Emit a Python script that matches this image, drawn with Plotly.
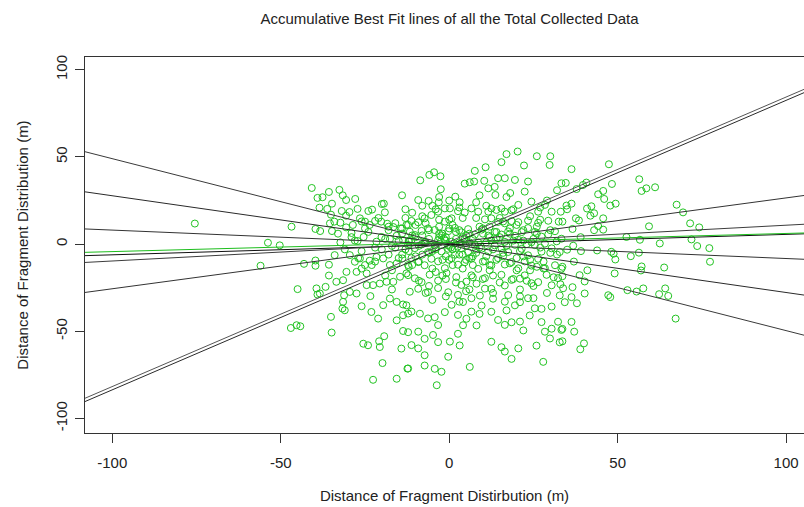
import plotly.graph_objects as go

# ---------------- data ----------------
# scatter of all collected fragments (x, y in metres)
pts_x = [
    -75.5, -56.0, -53.8, -50.3,
    -40.8, -39.1, -37.6, -35.7, -32.6, -31.6, -30.6, -27.9, -34.8, -38.5, -36.2, -19.4, -27.2, -22.9, -19.1,
    -31.9, -29.6, -35.1, -30.6, -46.8, -39.7, -38.3, -35.4, -34.1, -32.3, -30.6, -28.6, -26.5, -25.0, -23.6,
    -22.0, -20.2, -18.4, -16.6, -14.4, -12.7, -34.8, -32.3, -29.0, -27.2, -25.4, -21.6, -20.1, -17.6, -15.6,
    -13.7, -12.0, -43.1, -39.7, -39.7, -35.7, -34.0, -29.5, -28.0, -26.5, -25.0, -23.6, -21.6, -19.6, -17.6,
    -15.6, -13.9, -12.2, -45.0, -35.7, -39.4, -39.1, -38.4, -36.7, -33.5, -31.5, -30.5, -27.5, -26.0, -24.5,
    -22.6, -20.6, -18.6, -16.6, -14.6, -12.7, -31.2, -29.5, -27.5, -24.5, -31.5, -31.0, -31.7, -35.1, -26.0,
    -23.4, -23.1, -19.6, -17.6, -15.6, -13.7, -12.2, -21.1, -15.6, -13.7, -47.0, -45.3, -44.2, -34.9, -25.5,
    -24.1, -20.8, -20.6, -19.3, -13.7, -14.2, -19.8, -12.4, -22.6, -15.6,
    # centre block
    -8.6, -5.9, -4.5, -2.6, -2.5, -9.2, -6.1, -3.1, -1.3, 0.2, 1.8, 3.1, 4.6, 6.1, 7.4, 7.6, 10.8, 10.4, 11.6,
    13.5, 13.7, 14.5, 16.5, 15.5, 17.0, 20.3, 19.5, 22.2, 23.4, 22.4, 26.0, 30.0, 29.8, 33.3, 32.0, 18.1, 12.5,
    14.0, 15.5, 16.5, 11.6, 18.5, 20.5, 24.4, 28.4, 26.4, 30.4, 33.1, 32.5, 29.4, 26.4, 23.4, 20.5, 18.5, 16.5,
    14.5, 12.5, 10.6, 8.6, 6.6, 4.6, 2.6, 0.7, -1.3, -3.3, -5.3, -7.3, -9.2, -11.2, -12.2,
    -11.7, -10.2, -8.2, -6.3, -4.3, -2.3, -0.3, 1.7, 3.6, 5.6, 7.6, 9.6, 11.6, 13.5, 15.5, 17.5, 19.5, 21.5,
    23.4, 25.4, 27.4, 29.4, 31.4, 33.3,
    -12.2, -10.2, -8.2, -6.3, -4.3, -2.3, -0.3, 1.7, 3.6, 5.6, 7.6, 9.6, 11.6, 13.5, 15.5, 17.5, 19.5, 21.5,
    23.4, 25.4, 27.4, 30.4, 32.8,
    -11.2, -7.3, -3.3, 0.7, 4.6, 8.6, 12.5, 16.5, 20.5, 24.4, 28.4, 31.9,
    -11.2, -9.2, -7.3, -5.3, -3.3, -1.3, 0.7, 2.6, 4.6, 6.6, 8.6, 10.6, 12.5, 14.5, 16.5, 18.5, 20.5, 22.4,
    24.4, 26.4, 28.4, 31.4, 33.3,
    -12.2, -10.2, -8.2, -5.8, -3.3, -0.8, 2.1, 3.6, 5.1, 6.6, 8.1, 10.6, 12.5, 15.5, 16.5, 18.5, 21.0, 22.4,
    24.4, 26.4, 28.9, 30.4, 32.3, 33.8,
    -11.7, -9.2, -6.3, -3.3, -0.3, 2.6, 4.1, 6.6, 9.1, 10.6, 13.0, 16.5, 17.5, 19.5, 21.0, 23.4, 25.4, 27.4,
    30.4, 32.8,
    -12.7, -11.2, -8.7, -6.3, -4.3, -3.3, -1.3, 0.7, 2.6, 5.1, 6.6, 8.1, 9.6, 12.5, 14.5, 16.5, 18.5, 21.0,
    23.9, 27.4, 28.4, 30.4, 32.3, 33.3,
    -12.2, -9.2, -7.3, -4.8, -3.3, 0.2, 2.6, 3.1, 4.1, 12.5, 15.5, 16.5, 18.5, 20.5, 22.0, 25.9, 29.9, 32.8,
    -12.2, -7.3, -4.3, -2.3, -0.3, 6.1, -3.7, 27.9, -7.3, -9.2, -11.2,
    -6.0, -4.0, -2.0, 0.0, 2.0, 4.0, 6.0, 8.0, 10.0, -8.0, -10.0, -3.0, 1.0, 5.0, 9.0, -1.0, 3.0, 7.0, -5.0,
    11.0, 14.0, 16.0, 18.0, 20.0, 22.0, -12.0, -14.0, -16.0, -18.0, -20.0, -7.0, -9.0, 12.0, 15.0, -2.0, 2.0,
    6.0, -6.0, -4.0, 0.0, 8.0, -11.0, 13.0, 19.0, 24.0, 26.0, 28.0, -13.0, -15.0, -17.0, -22.0, -24.0, -26.0,
    -28.0, 3.0, -1.0, 9.0, -5.0, 17.0, 21.0, 25.0, 29.0, 30.0, 32.0, 27.0, -3.0, 4.0, 10.0, -8.0, 1.0, -1.0,
    5.0, 7.0, -11.0, 12.0,
    # dense core
    -19, -17, -15, -13, -11, -9, -7, -5, -3, -1, 1, 3, 5, 7, 9, 11, 13, 15, 17, 19, 21, 23, 25, 27,
    -18, -14, -10, -6, -2, 2, 6, 10, 14, 18, 22, 26, 30,
    -16, -12, -8, -4, 0, 4, 8, 12, 16, 20, 24, 28,
    -21, -19, -13, -9, -5, -1, 3, 7, 11, 15, 19, 23, 27, 31,
    -23, -25, -27, -29, -31, -33, -24, -20, -17, -14, -7, -3, 5, 9, 13, 17, 21, 25, 29, 33, 35, 37, 39, 41, 43,
    -0.5, 1.5, -2.5, 0.5, 2.5, -1.5, 4, -4, 6, -6, 8, -8, 3, -3, 12, -12, 14, -14, 16, 10, -10, 18, -18, 20,
    22, 24, -22, 26, -26, 0, 0,
    # right block
    36.3, 34.6, 47.4, 48.3, 56.4, 57.1, 58.5, 61.1, 40.7, 39.7, 37.8, 34.8, 36.3, 40.9, 42.2, 44.2, 45.7, 46.0,
    47.8, 49.4, 41.9, 43.0, 45.7, 37.6, 38.5, 33.6, 36.6, 44.2, 45.7, 67.5, 69.4, 71.5, 74.2, 59.3, 52.6, 56.6,
    62.5, 71.9, 73.6, 77.2, 36.8, 35.0, 39.1, 43.9, 48.1, 48.8, 49.3, 53.9, 56.3, 57.1, 56.9, 63.8, 77.4, 33.6,
    33.6, 38.7, 40.2, 36.6, 49.1, 36.3, 34.3, 37.9, 40.2, 47.2, 47.8, 52.9, 55.6, 57.6, 62.3, 64.1, 65.0, 67.2,
    36.3, 33.6, 37.1, 33.6, 40.0, 38.9,
]
pts_y = [
    11.8, -12.4, 0.8, -0.7,
    32.2, 26.5, 26.9, 29.9, 31.1, 28.0, 25.3, 25.9, 23.2, 20.9, 20.2, 23.2, 20.2, 19.8, 18.2,
    19.0, 18.4, 16.9, 16.3, 10.0, 8.7, 7.5, 11.9, 12.9, 12.3, 9.6, 11.0, 14.8, 12.9, 11.0,
    13.3, 12.9, 11.7, 9.8, 9.0, 11.0, 7.5, 1.0, 6.4, 1.8, 4.1, 1.4, 4.1, 2.9, 4.8,
    2.3, 1.4, -11.3, -9.4, -12.4, -11.8, -6.3, -6.3, -10.1, -8.2, -12.0, -9.5, -7.4, -8.2, -12.0,
    -11.1, -8.2, -12.0, -25.8, -18.0, -25.4, -28.9, -28.3, -24.5, -21.6, -20.7, -15.9, -15.9, -14.0, -16.8,
    -23.5, -22.6, -21.6, -21.6, -18.7, -16.8, -29.3, -27.4, -28.3, -23.5, -33.1, -37.9, -36.9, -41.7, -35.6,
    -29.8, -38.9, -35.0, -31.2, -33.1, -34.6, -39.8, -42.7, -43.7, -40.8, -48.1, -46.5, -47.1, -50.7, -57.1,
    -58.0, -55.7, -59.0, -52.8, -49.8, -59.9, -68.2, -71.4, -77.8, -77.2,
    # centre block
    36.6, 39.7, 41.2, 38.9, 31.5, 25.3, 24.8, 24.0, 20.5, 20.5, 27.2, 24.0, 34.7, 35.5, 35.9, 42.0, 44.1, 36.3, 32.0,
    32.8, 28.2, 37.8, 37.8, 47.0, 51.6, 53.1, 36.8, 45.1, 35.9, 30.1, 50.4, 50.4, 45.4, 34.9, 30.9, 29.3, 20.5,
    19.6, 20.5, 18.6, 18.6, 19.4, 22.5, 24.4, 22.5, 18.6, 18.6, 18.6, 12.9, 13.4, 12.2, 13.5, 12.6, 13.2, 11.9,
    12.7, 14.8, 14.2, 18.6, 20.5, 18.1, 18.9, 14.8, 12.9, 18.6, 16.7, 14.8, 12.5, 13.3, 11.0,
    7.1, 5.2, 7.6, 9.0, 8.1, 5.0, 7.4, 9.3, 6.8, 8.6, 5.4, 8.3, 4.9, 7.0, 5.5, 7.3, 4.8, 6.9,
    9.2, 7.0, 4.3, 5.6, 7.4, 3.1,
    -0.5, -2.3, -0.2, -4.6, -0.8, -4.2, -2.7, -6.1, -2.4, -4.6, -0.4, -2.6, -4.2, -0.7, -2.3, -4.5, -0.4, -2.7,
    -6.4, -0.6, -4.3, -2.4, -4.5,
    2.4, 1.2, 2.2, 1.4, 2.6, 1.0, 2.1, 1.3, 2.5, 1.1, 0.3, 1.6,
    -8.0, -10.3, -12.1, -8.4, -9.9, -13.8, -8.1, -11.8, -10.4, -8.3, -14.2, -9.8, -12.2, -8.0, -11.7, -10.3, -13.9, -9.9,
    -12.3, -8.4, -13.8, -12.1, -14.1,
    -17.8, -19.6, -21.8, -17.5, -20.9, -16.6, -18.9, -23.4, -21.5, -17.9, -22.7, -19.5, -25.6, -17.6, -23.7, -20.5, -19.8, -17.9,
    -22.4, -21.8, -17.6, -23.6, -19.5, -25.3,
    -27.3, -25.6, -27.5, -25.2, -27.6, -29.1, -33.2, -31.0, -29.5, -25.5, -31.3, -33.0, -29.2, -35.1, -33.3, -31.0, -36.8, -37.1,
    -35.8, -29.4,
    -35.1, -38.7, -39.9, -42.6, -41.9, -46.4, -39.0, -34.8, -40.6, -42.8, -38.7, -46.6, -35.2, -38.8, -43.5, -46.3, -44.8, -44.4,
    -40.9, -44.7, -50.2, -48.5, -44.5, -49.2,
    -50.5, -50.2, -54.3, -52.1, -56.2, -55.9, -51.4, -58.1, -46.5, -56.0, -59.1, -61.6, -65.8, -59.8, -49.5, -58.2, -54.1, -56.3,
    -71.3, -69.6, -71.5, -73.2, -64.6, -70.4, -80.9, -67.5, -63.7, -59.8, -57.9,
    3.0, -2.0, 6.0, -1.0, 3.0, -6.0, 1.0, -3.0, 6.0, -6.0, 4.0, 10.0, 11.0, -9.0, 10.0, -7.0, 8.0, -12.0, -14.0,
    -7.0, 3.0, -5.0, 9.0, -8.0, 2.0, -4.0, 6.0, -2.0, 8.0, -3.0, 12.0, -10.0, -15.0, 15.0, -18.0, -22.0,
    -26.0, -24.0, 20.0, 25.0, 24.0, 18.0, -18.0, -20.0, -15.0, 6.0, -10.0, 15.0, -8.0, -15.0, -10.0, 7.0, -4.0,
    2.0, -33.0, -30.0, -40.0, -32.0, -38.0, -26.0, -31.0, -28.0, 8.0, -6.0, 14.0, 14.0, 15.0, -20.0, 22.0, -12.0, 4.0,
    5.0, -7.0, -12.0, 10.0,
    # dense core
    3, -1, 2, -3, 5, -1, 1, -4, 4, 2, -3, 1, -1, 3, -2, 1, -3, 4, -1, 2, -4, 0, 3, -2,
    -6, 9, -7, 8, -9, 7, -8, 9, -9, 6, -7, 10, -5,
    12, -13, 16, -16, 14, -14, 15, -12, 13, -15, 16, -14,
    15, -18, 20, -21, 22, -20, 21, -19, 22, -22, 20, -21, 21, -19,
    -12, 9, -8, 4, -3, 6, 19, 23, -26, 28, -28, 27, -27, 28, -28, 27, -30, -24, 25, -23, 20, -10, 4, -15, 8,
    -0.5, 0.5, 1.5, -2, -1.5, 3, 4, -3, 6, -5, -5, 5, -6, 6, 4, 2, 7, -6, -7, -10, 11, -11, 10, 11,
    8, -9, -2, -13, 13, -9, 9,
    # right block
    43.0, 35.1, 45.8, 34.5, 37.2, 30.5, 32.0, 32.6, 35.3, 33.9, 31.6, 22.1, 23.2, 20.4, 21.7, 28.6, 30.5, 25.9,
    22.1, 23.2, 16.3, 17.7, 14.8, 14.8, 13.6, 12.9, 8.7, 10.4, 8.3, 22.6, 18.2, 11.9, 9.6, 10.2, 4.1, 2.5,
    0.4, 2.7, -1.1, -2.3, -0.9, -3.2, -4.0, -3.6, -4.4, -5.5, -8.8, -6.9, -4.9, -12.8, -15.1, -13.4, -10.1, -13.0,
    -18.4, -17.8, -21.4, -24.7, -16.8, -30.4, -33.3, -33.9, -28.3, -29.3, -30.4, -26.4, -27.2, -25.4, -28.7, -25.4, -29.7, -42.7,
    -44.6, -48.6, -50.2, -55.7, -56.9, -60.3,
]

# best-fit lines  y = intercept + slope * x
fit_intercepts = [-0.3, 0.0, -0.1, -0.27, 0.59, 0.46, 1.35, -0.55]
fit_slopes = [-0.493, -0.2774, -0.0815, 0.0586, 0.1026, 0.2605, 0.830, 0.830]
green_intercept = 0.92
green_slope = 0.052

x_ticks = [-100, -50, 0, 50, 100]
y_ticks = [-100, -50, 0, 50, 100]

# ---------------- styling ----------------
line_colors = ["#3a3a3a", "#2a2a2a", "#333333", "#111111", "#3c3c3c", "#333333", "#555555", "#2a2a2a"]
X_RANGE = [-108.1, 105.3]
Y_RANGE = [-108.3, 107.3]
FONT = "Liberation Sans, Arial, sans-serif"
GREEN = "#22C322"

fig = go.Figure()
fig.add_trace(go.Scatter(
    x=pts_x, y=pts_y, mode="markers",
    marker=dict(symbol="circle-open", size=7, color=GREEN, line=dict(width=1, color=GREEN)),
    hoverinfo="skip", showlegend=False,
))
for a, b, c in zip(fit_intercepts, fit_slopes, line_colors):
    xs = X_RANGE
    ys = [a + b * xv for xv in xs]
    fig.add_trace(go.Scatter(x=xs, y=ys, mode="lines", line=dict(color=c, width=1),
                             hoverinfo="skip", showlegend=False))
fig.add_trace(go.Scatter(x=X_RANGE, y=[green_intercept + green_slope * xv for xv in X_RANGE],
                         mode="lines", line=dict(color="#1DBE1D", width=1),
                         hoverinfo="skip", showlegend=False))

fig.update_layout(
    width=804, height=507,
    margin=dict(l=85, r=0, t=57, b=74),
    paper_bgcolor="white", plot_bgcolor="white",
    font=dict(family=FONT, color="#222222", size=15),
    title=dict(text="Accumulative Best Fit lines of all the Total Collected Data",
               x=449.5 / 804, xref="container", xanchor="center",
               y=1 - 19 / 507, yref="container", yanchor="middle",
               font=dict(size=15, family=FONT, color="#222222")),
)
fig.update_xaxes(
    range=X_RANGE, tickvals=x_ticks, ticktext=[str(v) for v in x_ticks],
    showgrid=False, zeroline=False, showline=True, linecolor="#333333", linewidth=1, mirror=True,
    ticks="outside", ticklen=9, tickcolor="#333333", tickwidth=1,
    ticklabelstandoff=7, tickfont=dict(size=15),
    title=dict(text="Distance of Fragment Distirbution (m)", font=dict(size=15), standoff=20),
)
fig.update_yaxes(
    range=Y_RANGE, tickvals=y_ticks, ticktext=[str(v) for v in y_ticks],
    showgrid=False, zeroline=False, showline=True, linecolor="#333333", linewidth=1, mirror=False,
    ticks="outside", ticklen=9, tickcolor="#333333", tickwidth=1, tickangle=-90,
    ticklabelstandoff=2, tickfont=dict(size=15),
    title=dict(text="Distance of Fragment Distribution (m)", font=dict(size=15), standoff=20),
)

fig.write_html("out.html")
